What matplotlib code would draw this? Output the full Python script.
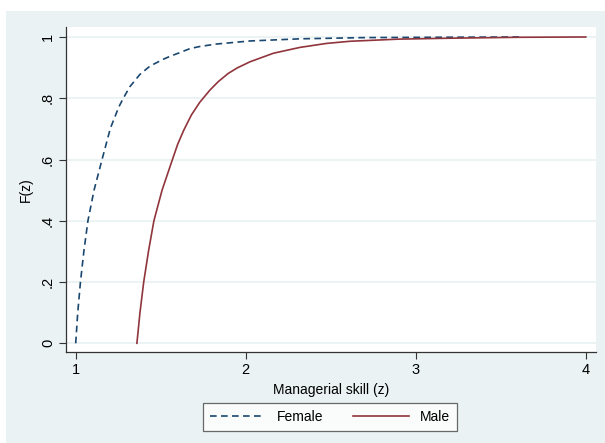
import matplotlib
matplotlib.use("Agg")
import matplotlib.pyplot as plt
from matplotlib.patches import Rectangle

plt.rcParams['font.family'] = ['Liberation Sans', 'DejaVu Sans']

# values
female_z = [1.00, 1.012, 1.028, 1.048, 1.072, 1.108, 1.155, 1.204, 1.254, 1.28,
            1.319, 1.378, 1.437, 1.514, 1.555, 1.603, 1.672, 1.73, 1.828, 2.025,
            2.32, 2.7, 3.1, 3.62]
female_F = [0.00, 0.10, 0.20, 0.30, 0.40, 0.50, 0.60, 0.702, 0.772, 0.80,
            0.838, 0.878, 0.905, 0.927, 0.937, 0.947, 0.962, 0.969, 0.977, 0.987,
            0.994, 0.998, 0.999, 1.0]
male_z = [1.36, 1.378, 1.40, 1.428, 1.46, 1.508, 1.569, 1.60, 1.635, 1.68,
          1.73, 1.79, 1.84, 1.897, 1.95, 2.025, 2.163, 2.319, 2.475, 2.613,
          2.9, 3.2, 3.6, 4.0]
male_F = [0.00, 0.10, 0.20, 0.30, 0.40, 0.50, 0.60, 0.65, 0.695, 0.745,
          0.787, 0.827, 0.855, 0.881, 0.899, 0.919, 0.947, 0.966, 0.979, 0.986,
          0.993, 0.996, 0.999, 1.0]
xticks = [1, 2, 3, 4]
yticks = [0, 0.2, 0.4, 0.6, 0.8, 1.0]
ylabels = ['0', '.2', '.4', '.6', '.8', '1']

bg = '#eaf2f3'
navy = '#1a476f'
maroon = '#90353b'

fig = plt.figure(figsize=(6.05, 4.43), dpi=100)
fig.patches.append(Rectangle((6/605, 0), 599/605, 432/443, transform=fig.transFigure,
                             facecolor=bg, edgecolor='none', zorder=0))

ax = fig.add_axes([66/605, 1-352.3/443, 530/605, 325.3/443])
ax.set_facecolor('white')
ax.set_zorder(1)

for y in yticks:
    ax.axhline(y, color=bg, lw=1.3, zorder=1)

ax.plot(female_z, female_F, color=navy, lw=1.2, linestyle=(0, (4, 2.6)),
        label='Female', zorder=3, solid_joinstyle='round', dash_joinstyle='round')
ax.plot(male_z, male_F, color=maroon, lw=1.2, label='Male', zorder=3,
        solid_joinstyle='round')

ax.set_xlim(0.943, 4.06)
ax.set_ylim(-0.0294, 1.0326)
ax.set_xticks(xticks)
ax.set_xticklabels([str(t) for t in xticks], fontsize=10.5)
ax.set_yticks(yticks)
ax.set_yticklabels(ylabels, fontsize=10.5, rotation=90, va='center')
ax.tick_params(direction='out', length=5, width=0.8, color='#333333', pad=3)

for s in ['top', 'right']:
    ax.spines[s].set_visible(False)
for s in ['left', 'bottom']:
    ax.spines[s].set_color('#333333')
    ax.spines[s].set_linewidth(0.9)

ax.set_xlabel('Managerial skill (z)', fontsize=10, labelpad=4)
ax.set_ylabel('F(z)', fontsize=10, labelpad=6)

leg = fig.legend(loc='center', bbox_to_anchor=(330/605, 1-417/443), ncol=2,
                 fontsize=10, frameon=True, fancybox=False, handlelength=4,
                 handletextpad=0.8, columnspacing=2.2, borderpad=0.5)
leg.get_frame().set_edgecolor('#444444')
leg.get_frame().set_linewidth(0.9)

fig.savefig('out.png', dpi=100, facecolor='white')
